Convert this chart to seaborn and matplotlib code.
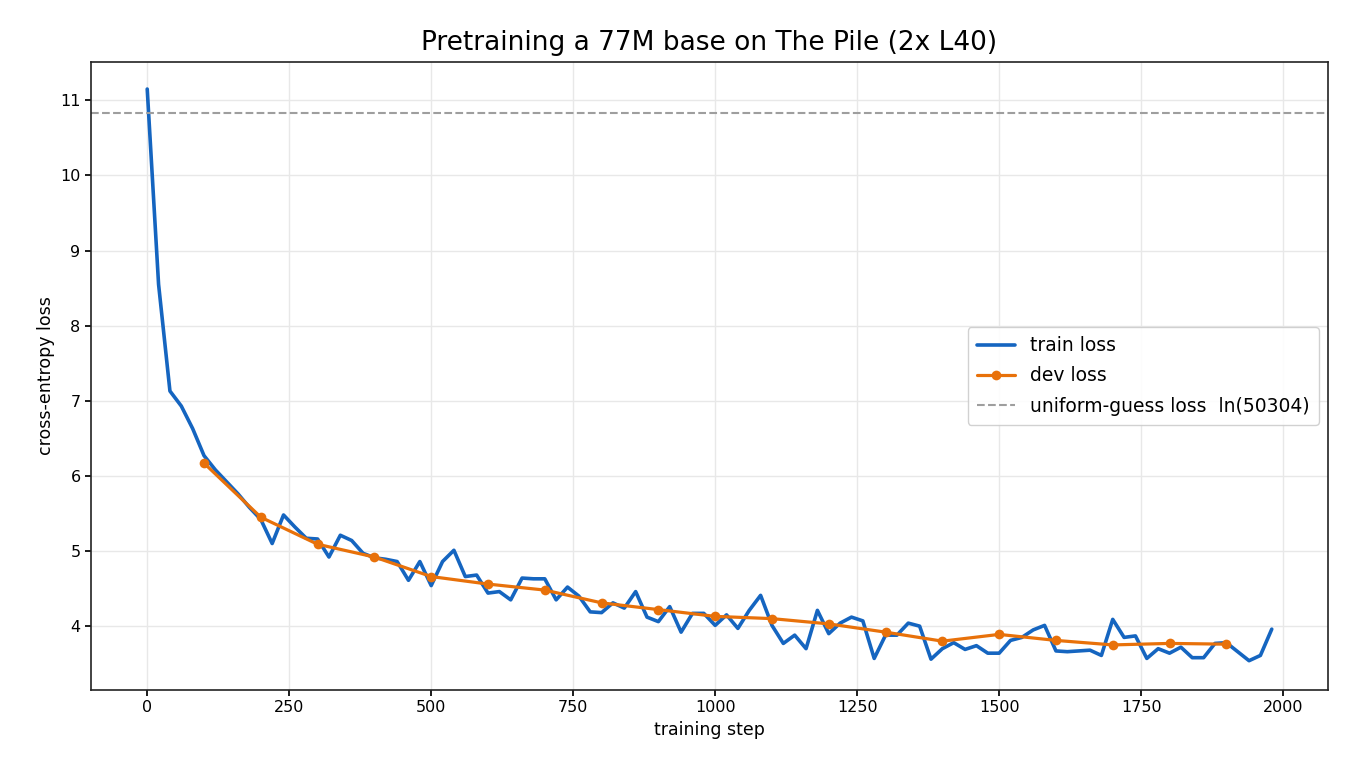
import numpy as np
import pandas as pd
import matplotlib
matplotlib.use("Agg")
import matplotlib.pyplot as plt
import seaborn as sns

# train loss logged every 20 steps
train_steps = list(range(0, 2000, 20))
train_loss = [
    11.15, 8.55, 7.13, 6.93, 6.63, 6.27, 6.08, 5.92, 5.76, 5.58,
    5.42, 5.10, 5.48, 5.32, 5.17, 5.16, 4.92, 5.21, 5.14, 4.97,
    4.91, 4.89, 4.86, 4.61, 4.86, 4.54, 4.86, 5.01, 4.66, 4.68,
    4.44, 4.46, 4.35, 4.64, 4.63, 4.63, 4.35, 4.52, 4.40, 4.19,
    4.18, 4.31, 4.24, 4.46, 4.12, 4.06, 4.26, 3.92, 4.17, 4.17,
    4.01, 4.15, 3.97, 4.21, 4.41, 4.01, 3.77, 3.88, 3.70, 4.21,
    3.90, 4.04, 4.12, 4.07, 3.57, 3.88, 3.88, 4.04, 4.00, 3.56,
    3.70, 3.78, 3.69, 3.74, 3.64, 3.64, 3.81, 3.85, 3.95, 4.01,
    3.67, 3.66, 3.67, 3.68, 3.61, 4.09, 3.85, 3.87, 3.57, 3.70,
    3.64, 3.72, 3.58, 3.58, 3.77, 3.78, 3.66, 3.54, 3.61, 3.96,
]

# dev loss evaluated every 100 steps
dev_steps = [100, 200, 300, 400, 500, 600, 700, 800, 900, 1000,
             1100, 1200, 1300, 1400, 1500, 1600, 1700, 1800, 1900]
dev_loss = [6.17, 5.45, 5.09, 4.92, 4.66, 4.56, 4.48, 4.31, 4.22, 4.13,
            4.10, 4.03, 3.92, 3.80, 3.89, 3.81, 3.75, 3.77, 3.76]

vocab_size = 50304
uniform_loss = np.log(vocab_size)

df_train = pd.DataFrame({"step": train_steps, "loss": train_loss})
df_dev = pd.DataFrame({"step": dev_steps, "loss": dev_loss})

sns.set_theme(style="ticks", rc={
    "axes.grid": True,
    "grid.color": "#e8e8e8",
    "grid.linewidth": 1.0,
    "axes.edgecolor": "#222222",
    "axes.linewidth": 1.2,
    "text.color": "black",
    "axes.labelcolor": "black",
    "xtick.color": "black",
    "ytick.color": "black",
})
plt.rcParams["font.family"] = ["DejaVu Sans"]

fig, ax = plt.subplots(figsize=(13.5, 7.8), dpi=100)
fig.subplots_adjust(left=0.0674, right=0.9837, top=0.9205, bottom=0.1154)

sns.lineplot(data=df_train, x="step", y="loss", ax=ax, color="#1565C0",
             linewidth=2.6, label="train loss")
sns.lineplot(data=df_dev, x="step", y="loss", ax=ax, color="#E8710A",
             linewidth=2.3, marker="o", markersize=7, markeredgewidth=0,
             label="dev loss")
ax.axhline(uniform_loss, color="#9e9e9e", linestyle="--", linewidth=1.5,
           label="uniform-guess loss  ln(50304)")

ax.set_xlim(-99, 2079)
ax.set_ylim(3.15, 11.51)
ax.set_xticks([0, 250, 500, 750, 1000, 1250, 1500, 1750, 2000])
ax.set_yticks([4, 5, 6, 7, 8, 9, 10, 11])
ax.tick_params(labelsize=11.5, length=4)

ax.set_title("Pretraining a 77M base on The Pile (2x L40)", fontsize=19, pad=9)
ax.set_xlabel("training step", fontsize=12.5)
ax.set_ylabel("cross-entropy loss", fontsize=12.5)

ax.legend(loc="center right", fontsize=13.5, frameon=True, framealpha=0.9,
          edgecolor="#cccccc", borderpad=0.5, labelspacing=0.6)

fig.savefig("out.png", dpi=100)
